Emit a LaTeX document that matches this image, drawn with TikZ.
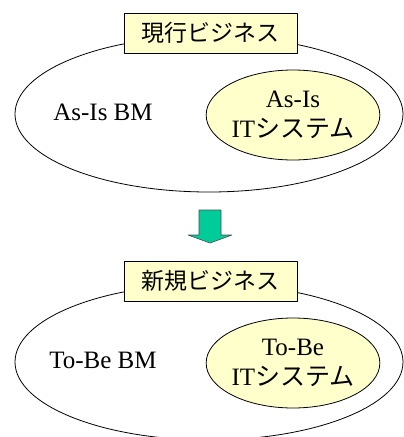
\documentclass[tikz,border=0pt]{standalone}
\usepackage{fontspec}
\setmainfont{Liberation Serif}
\newfontfamily\jp{Noto Sans CJK JP}
\usetikzlibrary{shapes.geometric}
\definecolor{paleyellow}{HTML}{FFFFCC}
\definecolor{arrowgreen}{HTML}{00CC99}

\begin{document}
\begin{tikzpicture}[x=1pt, y=-1pt, line join=bevel]
  % \gap is the vertical distance between the two business models.
  \pgfmathsetmacro{\gap}{248}

  \tikzset{
    outer_oval/.style={ellipse, draw, line width=0.8pt, minimum width=388pt,
      minimum height=156pt, inner sep=0pt},
    inner_oval/.style={ellipse, draw, fill=paleyellow, line width=0.8pt,
      minimum width=160pt, minimum height=90pt, inner sep=0pt, align=center,
      font=\fontsize{25}{30}\selectfont},
    title_box/.style={draw, fill=paleyellow, line width=0.8pt,
      minimum width=173pt, minimum height=40pt, inner sep=0pt,
      font=\jp\fontsize{23}{26}\selectfont},
    bm_label/.style={font=\fontsize{25}{30}\selectfont},
    shift_arrow/.style={fill=arrowgreen, draw=black!70, line width=0.6pt},
  }

  \useasboundingbox (0,0) rectangle (404,437);

  \foreach \v/\n/\title/\bm/\sys in {
    0/asis/現行ビジネス/As-Is BM/As-Is,
    \gap/tobe/新規ビジネス/To-Be BM/To-Be
  }{
  \begin{scope}[shift={(0,\v)}]
    \node[outer_oval] (world_\n) at (209,114) {};
    \node[title_box] (title_\n) at (210.5,33) {\title};
    \node[bm_label] (bm_\n) at (103,112) {\bm};
    \node[inner_oval] (system_\n) at (293,115) {\sys\\IT{\jp システム}};
  \end{scope}
  }

  % block arrow from the current to the new business
  \draw[shift_arrow]
    (199,210) --
    ++(22,0)  --
    ++(0,25)  --
    ++(11,0)  --
    ++(-22,8) --
    ++(-22,-8) --
    ++(11,0)  --
    cycle;
\end{tikzpicture}
\end{document}
